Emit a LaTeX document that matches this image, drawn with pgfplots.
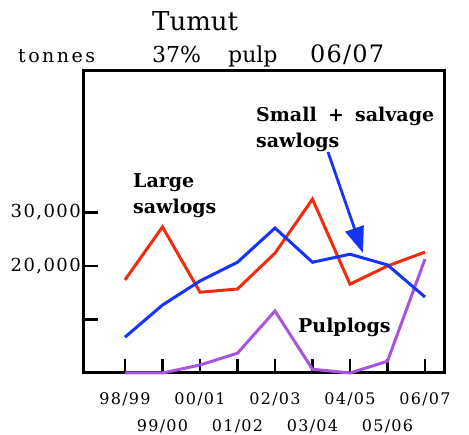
\documentclass[border=0pt]{standalone}
\usepackage{pgfplots}
\pgfplotsset{compat=1.18}
\usetikzlibrary{arrows.meta}
\usepackage{fontspec}
\setmainfont{DejaVu Serif}
\newfontfamily\tickfont[LetterSpace=8]{DejaVu Serif}
\newfontfamily\tonfont[LetterSpace=13]{DejaVu Serif}
\newfontfamily\datefont[LetterSpace=5]{DejaVu Serif}
\definecolor{cred}{RGB}{243,43,13}
\definecolor{cblue}{RGB}{22,52,245}
\definecolor{cpurp}{RGB}{168,84,222}
\begin{document}
\begin{tikzpicture}
\useasboundingbox (0,0) rectangle (469pt,-435pt);
\node[anchor=base west,inner sep=0pt,font=\fontsize{26}{30}\selectfont] at (152pt,-31pt) {Tumut};
\node[anchor=base west,inner sep=0pt,font=\fontsize{22}{26}\selectfont] at (152pt,-63pt) {37\%};
\node[anchor=base west,inner sep=0pt,font=\fontsize{22}{26}\selectfont] at (228pt,-63pt) {pulp};
\node[anchor=base west,inner sep=0pt,font=\datefont\fontsize{24}{28}\selectfont] at (310pt,-63pt) {06/07};
\node[anchor=base west,inner sep=0pt,font=\tonfont\fontsize{19}{22}\selectfont] at (18pt,-63pt) {tonnes};
\begin{axis}[
  at={(84pt,-373pt)}, anchor=south west,
  width=360pt, height=302pt, scale only axis,
  xmin=-1.093, xmax=8.507, ymin=0, ymax=56450,
  axis line style={line width=3pt, black},
  tick style={line width=2.2pt, black},
  major tick length=14pt, tick align=inside,
  tick pos=left,
  xtick={0,2,4,6,8},
  xticklabels={98/99,00/01,02/03,04/05,06/07},
  extra x ticks={1,3,5,7},
  extra x tick labels={99/00,01/02,03/04,05/06},
  extra x tick style={xticklabel style={yshift=-27pt}},
  xticklabel style={font=\tickfont\fontsize{16}{18}\selectfont, inner sep=0pt, yshift=-19pt},
  ytick={10000,20000,30000},
  yticklabels={,{20,000},{30,000}},
  yticklabel style={font=\tickfont\fontsize{18}{20}\selectfont, inner sep=0pt, xshift=-3pt},
  scaled y ticks=false,
  clip=false,
]
\addplot[cpurp, line width=3pt, no markers] coordinates {
  (0,0) (1,0) (2,1500) (3,3700) (4,11600) (5,700) (6,0) (7,2200) (8,21300)};
\addplot[cred, line width=3pt, no markers] coordinates {
  (0,17400) (1,27300) (2,15100) (3,15700) (4,22400) (5,32500) (6,16600) (7,20000) (8,22600)};
\addplot[cblue, line width=3pt, no markers] coordinates {
  (0,6700) (1,12700) (2,17200) (3,20700) (4,27100) (5,20700) (6,22200) (7,20200) (8,14200)};
\draw[cblue, line width=2.8pt, -{Triangle[length=26pt,width=19pt]}] (axis cs:5.413,41300) -- (axis cs:6.347,22430);
\begin{scope}[every node/.style={anchor=base west, inner sep=0pt, font=\bfseries\fontsize{19}{22}\selectfont}]
\node at (axis cs:0.213,34580) {Large};
\node at (axis cs:0.213,29900) {sawlogs};
\node at (axis cs:3.493,47100) {Small};
\node at (axis cs:5.413,47100) {+};
\node at (axis cs:6.133,47100) {salvage};
\node at (axis cs:3.493,42240) {sawlogs};
\node at (axis cs:4.613,7660) {Pulplogs};
\end{scope}
\end{axis}
\end{tikzpicture}
\end{document}
